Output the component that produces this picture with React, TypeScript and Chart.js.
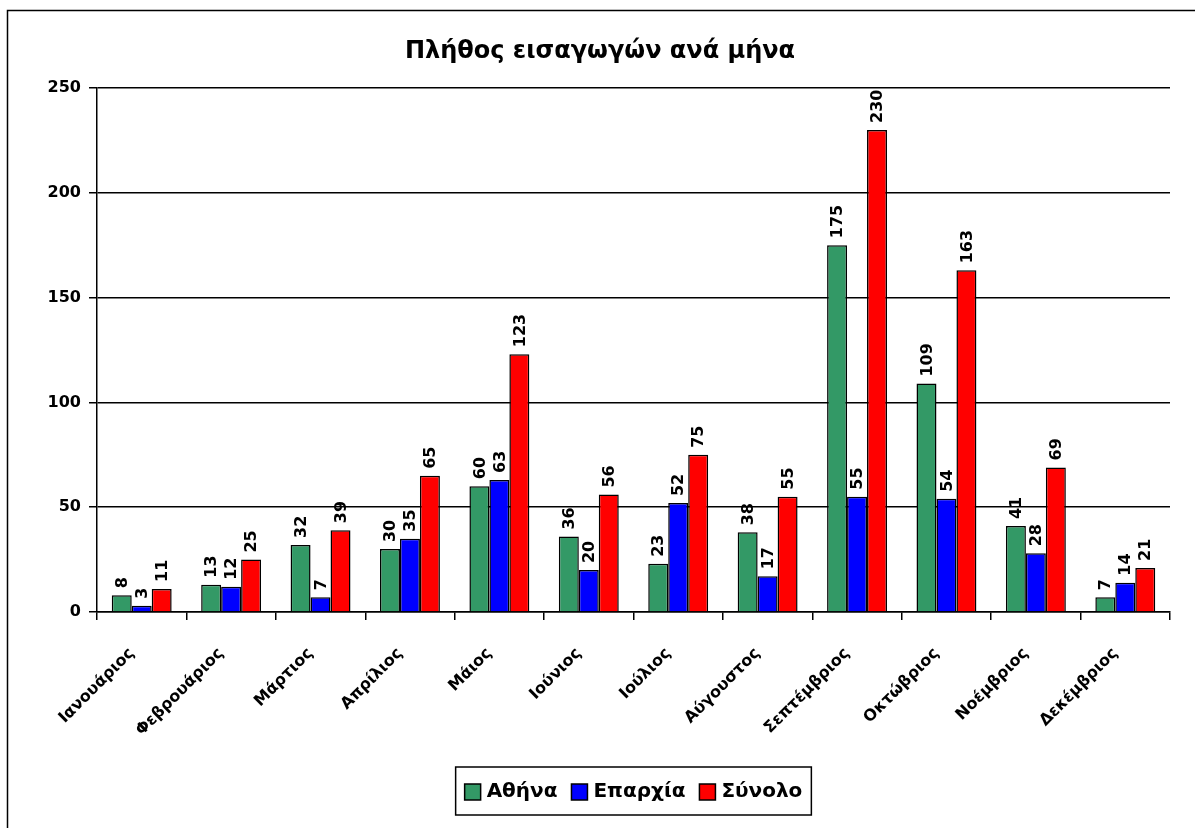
import React, { useEffect, useRef } from "react";
import { Chart, registerables } from "chart.js";

Chart.register(...registerables);

const months = [
  "Ιανουάριος", "Φεβρουάριος", "Μάρτιος", "Απρίλιος", "Μάιος", "Ιούνιος",
  "Ιούλιος", "Αύγουστος", "Σεπτέμβριος", "Οκτώβριος", "Νοέμβριος", "Δεκέμβριος",
];
const athina = [8, 13, 32, 30, 60, 36, 23, 38, 175, 109, 41, 7];
const eparxia = [3, 12, 7, 35, 63, 20, 52, 17, 55, 54, 28, 14];
const synolo = [11, 25, 39, 65, 123, 56, 75, 55, 230, 163, 69, 21];
const seriesNames = ["Αθήνα", "Επαρχία", "Σύνολο"];
const seriesColors = ["#339966", "#0000FF", "#FF0000"];
const titleText = "Πλήθος εισαγωγών ανά μήνα";

const FONT = "'DejaVu Sans', sans-serif";

const framePlugin = {
  id: "frame",
  beforeDraw(chart: any) {
    const ctx = chart.ctx;
    ctx.save();
    ctx.fillStyle = "#fff";
    ctx.fillRect(0, 0, chart.width, chart.height);
    ctx.strokeStyle = "#000";
    ctx.lineWidth = 1.5;
    ctx.beginPath();
    ctx.moveTo(7.5, chart.height + 5);
    ctx.lineTo(7.5, 10.5);
    ctx.lineTo(chart.width + 5, 10.5);
    ctx.stroke();
    ctx.fillStyle = "#000";
    ctx.font = `bold 24px ${FONT}`;
    ctx.textAlign = "center";
    ctx.textBaseline = "middle";
    ctx.fillText(titleText, 600, 52);
    ctx.restore();
  },
};

const labelPlugin = {
  id: "vlabels",
  afterDatasetsDraw(chart: any) {
    const ctx = chart.ctx;
    ctx.save();
    ctx.fillStyle = "#000";
    ctx.font = `bold 16px ${FONT}`;
    ctx.textAlign = "left";
    ctx.textBaseline = "middle";
    chart.data.datasets.forEach((ds: any, di: number) => {
      const meta = chart.getDatasetMeta(di);
      meta.data.forEach((bar: any, i: number) => {
        ctx.save();
        ctx.translate(bar.x, bar.y - 7);
        ctx.rotate(-Math.PI / 2);
        ctx.fillText(String(ds.data[i]), 0, 1);
        ctx.restore();
      });
    });
    ctx.restore();
  },
};

const legendPlugin = {
  id: "boxLegend",
  afterDraw(chart: any) {
    const ctx = chart.ctx;
    ctx.save();
    ctx.font = `bold 20px ${FONT}`;
    const sq = 16;
    const gapSq = 6;
    const gapItem = 14;
    const pad = 9;
    const widths = seriesNames.map((n) => ctx.measureText(n).width);
    let total = pad * 2;
    widths.forEach((w, i) => {
      total += sq + gapSq + w + (i < widths.length - 1 ? gapItem : 0);
    });
    const cx = 633.5;
    const top = 767;
    const h = 48;
    const left = cx - total / 2;
    ctx.strokeStyle = "#000";
    ctx.lineWidth = 1.5;
    ctx.fillStyle = "#fff";
    ctx.fillRect(left, top, total, h);
    ctx.strokeRect(left, top, total, h);
    let x = left + pad;
    const cy = top + h / 2 + 1;
    seriesNames.forEach((n, i) => {
      ctx.fillStyle = seriesColors[i];
      ctx.fillRect(x, cy - sq / 2, sq, sq);
      ctx.strokeRect(x, cy - sq / 2, sq, sq);
      x += sq + gapSq;
      ctx.fillStyle = "#000";
      ctx.textAlign = "left";
      ctx.textBaseline = "middle";
      ctx.fillText(n, x, cy);
      x += widths[i] + gapItem;
    });
    ctx.restore();
  },
};

export default function App() {
  const ref = useRef<HTMLCanvasElement | null>(null);
  useEffect(() => {
    if (!ref.current) return;
    const chart = new Chart(ref.current, {
      type: "bar",
      data: {
        labels: months,
        datasets: [athina, eparxia, synolo].map((d, i) => ({
          label: seriesNames[i],
          data: d,
          backgroundColor: seriesColors[i],
          borderColor: "#000",
          borderWidth: 1.5,
          categoryPercentage: 0.67,
          barPercentage: 1,
        })),
      },
      options: {
        animation: false,
        responsive: false,
        maintainAspectRatio: false,
        layout: { padding: { left: 30, top: 88, right: 25, bottom: 0 } },
        plugins: {
          legend: { display: false },
          title: { display: false },
          tooltip: { enabled: false },
        },
        scales: {
          x: {
            offset: true,
            grid: {
              offset: true,
              drawOnChartArea: false,
              drawTicks: true,
              tickLength: 8,
              color: "#000",
              lineWidth: 1.5,
            },
            border: { color: "#000", width: 1.5 },
            ticks: {
              color: "#000",
              font: { family: FONT, weight: "bold", size: 16 },
              maxRotation: 45,
              minRotation: 45,
              padding: 24,
              labelOffset: -10,
              autoSkip: false,
            },
            afterFit(s: any) {
              s.height = 828 - 612;
            },
          },
          y: {
            min: 0,
            max: 250,
            ticks: {
              stepSize: 50,
              color: "#000",
              font: { family: FONT, weight: "bold", size: 16 },
              padding: 8,
            },
            grid: { color: "#000", lineWidth: 1.5, tickLength: 8 },
            border: { color: "#000", width: 1.5 },
            afterFit(s: any) {
              s.width = 67;
            },
          },
        },
      } as any,
      plugins: [framePlugin, labelPlugin, legendPlugin],
    });
    return () => chart.destroy();
  }, []);
  return (
    <div style={{ position: "absolute", left: 0, top: 0, width: 1195, height: 828 }}>
      <canvas ref={ref} width={1195} height={828} style={{ display: "block" }} />
    </div>
  );
}
